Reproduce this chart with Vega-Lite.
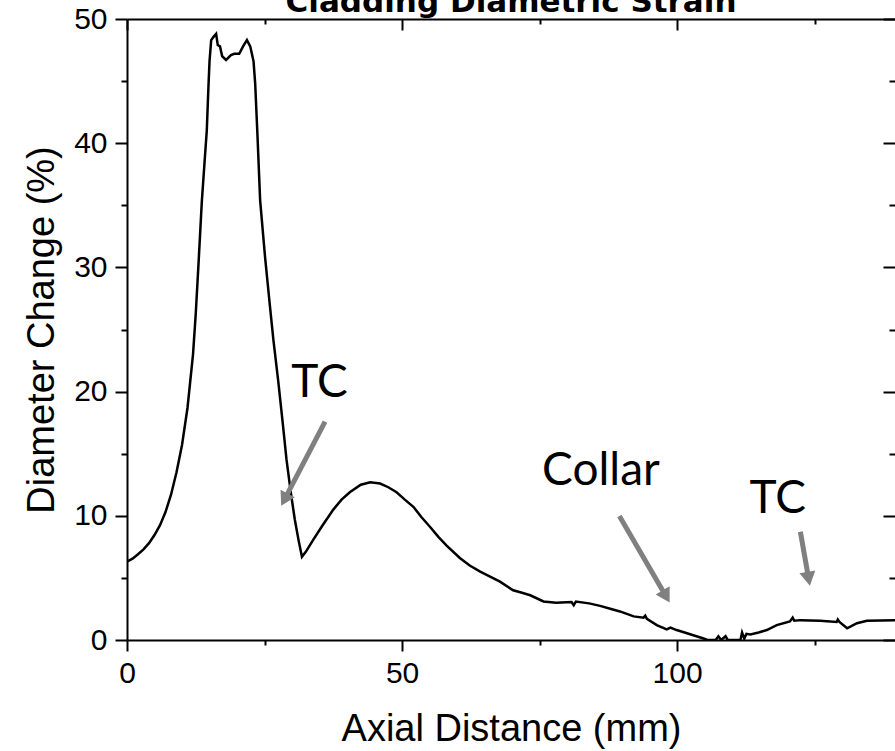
{
  "$schema": "https://vega.github.io/schema/vega-lite/v6.json",
  "width": 768,
  "height": 621,
  "autosize": {"type": "none"},
  "padding": {"left": 127, "top": 19, "right": 0, "bottom": 111},
  "background": "white",
  "config": {"view": {"stroke": null}},
  "title": {"text": "Cladding Diametric Strain", "font": "DejaVu Sans", "fontSize": 31, "fontWeight": "bold", "color": "black", "baseline": "alphabetic", "offset": -9, "dy": 30, "anchor": "middle"},
  "datasets": {
    "curve": [
      {"x": 0, "y": 6.3}, {"x": 1, "y": 6.55}, {"x": 2, "y": 6.9}, {"x": 3, "y": 7.3}, {"x": 4, "y": 7.8},
      {"x": 5, "y": 8.45}, {"x": 6, "y": 9.25}, {"x": 7, "y": 10.3}, {"x": 8, "y": 11.7}, {"x": 9, "y": 13.5},
      {"x": 10, "y": 15.7}, {"x": 11, "y": 18.7}, {"x": 12, "y": 23.0}, {"x": 12.5, "y": 26.3}, {"x": 13, "y": 30.3},
      {"x": 13.6, "y": 35.3}, {"x": 14.1, "y": 38.5}, {"x": 14.5, "y": 41.0}, {"x": 14.8, "y": 44.5}, {"x": 15.0, "y": 46.6},
      {"x": 15.3, "y": 48.3}, {"x": 15.8, "y": 48.6}, {"x": 16.2, "y": 48.8}, {"x": 16.5, "y": 47.9}, {"x": 16.9, "y": 47.8},
      {"x": 17.3, "y": 47.0}, {"x": 18.0, "y": 46.7}, {"x": 18.9, "y": 47.1}, {"x": 19.5, "y": 47.2}, {"x": 20.4, "y": 47.2},
      {"x": 21.1, "y": 47.8}, {"x": 21.8, "y": 48.3}, {"x": 22.4, "y": 47.8}, {"x": 23.0, "y": 46.6}, {"x": 23.3, "y": 44.8},
      {"x": 23.7, "y": 40.8}, {"x": 24.2, "y": 35.4}, {"x": 25.1, "y": 30.8}, {"x": 26.0, "y": 26.8}, {"x": 26.6, "y": 24.2},
      {"x": 27.5, "y": 20.8}, {"x": 28.3, "y": 17.5}, {"x": 29.0, "y": 14.5}, {"x": 29.8, "y": 11.8}, {"x": 30.5, "y": 9.7},
      {"x": 31.2, "y": 8.0}, {"x": 31.8, "y": 6.7}, {"x": 32.5, "y": 7.1}, {"x": 33.9, "y": 8.1}, {"x": 35.5, "y": 9.2},
      {"x": 37.5, "y": 10.5}, {"x": 39.0, "y": 11.3}, {"x": 40.5, "y": 11.9}, {"x": 42.5, "y": 12.5}, {"x": 44.2, "y": 12.7},
      {"x": 46.0, "y": 12.6}, {"x": 47.5, "y": 12.3}, {"x": 49.0, "y": 11.9}, {"x": 50.5, "y": 11.3}, {"x": 52.1, "y": 10.7},
      {"x": 53.5, "y": 9.9}, {"x": 55.1, "y": 9.1}, {"x": 56.6, "y": 8.3}, {"x": 58.1, "y": 7.6}, {"x": 60.5, "y": 6.6},
      {"x": 62.3, "y": 6.0}, {"x": 64.2, "y": 5.5}, {"x": 66.0, "y": 5.1}, {"x": 67.8, "y": 4.7}, {"x": 70.2, "y": 4.0},
      {"x": 71.8, "y": 3.8}, {"x": 73.3, "y": 3.6}, {"x": 75.7, "y": 3.1}, {"x": 78.0, "y": 3.0}, {"x": 80.8, "y": 3.05},
      {"x": 81.2, "y": 2.8}, {"x": 81.6, "y": 3.1}, {"x": 84.0, "y": 2.95}, {"x": 86.0, "y": 2.75}, {"x": 88.0, "y": 2.5},
      {"x": 89.6, "y": 2.3}, {"x": 92.1, "y": 1.9}, {"x": 93.9, "y": 1.8}, {"x": 94.2, "y": 1.95}, {"x": 94.5, "y": 1.7},
      {"x": 96.3, "y": 1.2}, {"x": 98.1, "y": 0.86}, {"x": 98.8, "y": 1.0}, {"x": 99.9, "y": 0.8}, {"x": 101.8, "y": 0.54},
      {"x": 103.5, "y": 0.3}, {"x": 104.8, "y": 0.12}, {"x": 105.5, "y": 0.0}, {"x": 107.0, "y": 0.0}, {"x": 107.5, "y": 0.3},
      {"x": 108.0, "y": 0.0}, {"x": 108.8, "y": 0.3}, {"x": 109.2, "y": 0.0}, {"x": 111.5, "y": 0.0}, {"x": 111.8, "y": 0.6},
      {"x": 112.2, "y": 0.1}, {"x": 112.6, "y": 0.5}, {"x": 113.3, "y": 0.45}, {"x": 114.8, "y": 0.6}, {"x": 116.3, "y": 0.8},
      {"x": 118.1, "y": 1.2}, {"x": 120.5, "y": 1.5}, {"x": 121.0, "y": 1.8}, {"x": 121.3, "y": 1.55}, {"x": 122.4, "y": 1.6},
      {"x": 126.0, "y": 1.55}, {"x": 129.0, "y": 1.45}, {"x": 129.2, "y": 1.65}, {"x": 129.5, "y": 1.45}, {"x": 130.9, "y": 0.94},
      {"x": 132.0, "y": 1.2}, {"x": 132.7, "y": 1.35}, {"x": 134.5, "y": 1.55}, {"x": 139.6, "y": 1.6}
    ],
    "labels": [
      {"x": 35.0, "y": 19.54, "text": "TC"},
      {"x": 86.15, "y": 12.48, "text": "Collar"},
      {"x": 118.3, "y": 10.2, "text": "TC"}
    ],
    "arrows": [
      {"id": 1, "x": 36.0, "y": 17.58, "x2": 28.62, "y2": 11.30},
      {"id": 2, "x": 89.5, "y": 9.98, "x2": 98.0, "y2": 3.51},
      {"id": 3, "x": 122.4, "y": 8.72, "x2": 123.9, "y2": 4.93}
    ]
  },
  "layer": [
    {
      "data": {"name": "curve"},
      "mark": {"type": "line", "color": "black", "strokeWidth": 2.5, "clip": true},
      "encoding": {
        "x": {"field": "x", "type": "quantitative", "scale": {"domain": [0, 139.6], "nice": false, "zero": false},
          "axis": {"orient": "bottom", "values": [0, 25, 50, 75, 100, 125], "labelExpr": "datum.value % 50 === 0 ? datum.label : ''",
            "tickSize": {"condition": {"test": "datum.value % 50 === 0", "value": 11}, "value": 5},
            "tickWidth": 2, "tickColor": "black", "domainColor": "black", "domainWidth": 2, "grid": false,
            "labelFont": "Liberation Sans", "labelFontSize": 30, "labelColor": "black", "labelPadding": 7, "labelFlush": false, "labelOverlap": false,
            "title": "Axial Distance (mm)", "titleFont": "Liberation Sans", "titleFontSize": 38, "titleFontWeight": "normal", "titleColor": "black", "titlePadding": 22}},
        "y": {"field": "y", "type": "quantitative", "scale": {"domain": [0, 50], "nice": false},
          "axis": {"orient": "left", "values": [0, 5, 10, 15, 20, 25, 30, 35, 40, 45, 50], "labelExpr": "datum.value % 10 === 0 ? datum.label : ''",
            "tickSize": {"condition": {"test": "datum.value % 10 === 0", "value": 12}, "value": 6},
            "tickWidth": 2, "tickColor": "black", "domainColor": "black", "domainWidth": 2, "grid": false,
            "labelFont": "Liberation Sans", "labelFontSize": 30, "labelColor": "black", "labelPadding": 8, "labelFlush": false, "labelOverlap": false,
            "title": "Diameter Change (%)", "titleFont": "Liberation Sans", "titleFontSize": 38, "titleFontWeight": "normal", "titleColor": "black", "titlePadding": 12}}
      }
    },
    {
      "data": {"name": "labels"},
      "mark": {"type": "text", "font": "Lato", "fontSize": 46, "color": "black", "align": "center", "baseline": "alphabetic"},
      "encoding": {
        "x": {"field": "x", "type": "quantitative",
          "axis": {"orient": "top", "values": [0, 25, 50, 75, 100, 125], "labels": false, "title": null, "grid": false,
            "tickSize": {"condition": {"test": "datum.value % 50 === 0", "value": -11}, "value": -5},
            "tickWidth": 2, "tickColor": "black", "domainColor": "black", "domainWidth": 2}},
        "y": {"field": "y", "type": "quantitative",
          "axis": {"orient": "right", "values": [0, 5, 10, 15, 20, 25, 30, 35, 40, 45, 50], "labels": false, "title": null, "grid": false, "domain": false,
            "tickSize": {"condition": {"test": "datum.value % 10 === 0", "value": -12}, "value": -6},
            "tickWidth": 2, "tickColor": "black"}},
        "text": {"field": "text"}
      }
    },
    {
      "data": {"name": "arrows"},
      "mark": {"type": "rule", "color": "#808080", "strokeWidth": 5},
      "encoding": {
        "x": {"field": "x", "type": "quantitative", "axis": null},
        "y": {"field": "y", "type": "quantitative", "axis": null},
        "x2": {"field": "x2"},
        "y2": {"field": "y2"}
      }
    },
    {
      "data": {"name": "arrows"},
      "transform": [{"filter": "datum.id === 1"}],
      "mark": {"type": "point", "shape": "triangle-up", "filled": true, "color": "#808080", "opacity": 1, "size": 260, "angle": 207.5},
      "encoding": {
        "x": {"field": "x2", "type": "quantitative", "axis": null},
        "y": {"field": "y2", "type": "quantitative", "axis": null}
      }
    },
    {
      "data": {"name": "arrows"},
      "transform": [{"filter": "datum.id === 2"}],
      "mark": {"type": "point", "shape": "triangle-up", "filled": true, "color": "#808080", "opacity": 1, "size": 260, "angle": 149.9},
      "encoding": {
        "x": {"field": "x2", "type": "quantitative", "axis": null},
        "y": {"field": "y2", "type": "quantitative", "axis": null}
      }
    },
    {
      "data": {"name": "arrows"},
      "transform": [{"filter": "datum.id === 3"}],
      "mark": {"type": "point", "shape": "triangle-up", "filled": true, "color": "#808080", "opacity": 1, "size": 260, "angle": 169.7},
      "encoding": {
        "x": {"field": "x2", "type": "quantitative", "axis": null},
        "y": {"field": "y2", "type": "quantitative", "axis": null}
      }
    }
  ],
  "resolve": {"axis": {"x": "independent", "y": "independent"}}
}
